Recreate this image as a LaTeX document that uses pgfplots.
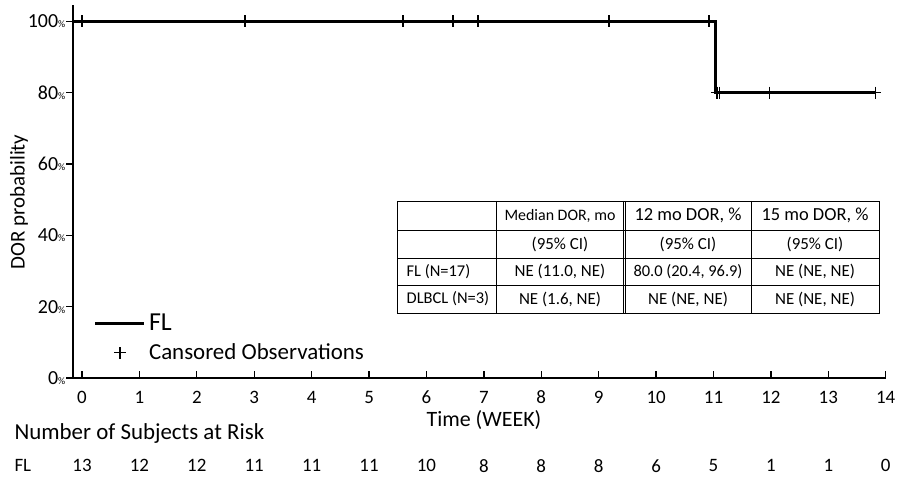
\documentclass[border=0pt]{standalone}
\usepackage{fontspec}
\setmainfont{Carlito}
\usepackage{pgfplots}
\pgfplotsset{compat=1.18}
\newcommand\fs[1]{\fontsize{#1}{#1}\selectfont}
\begin{document}
\begin{tikzpicture}[x=1bp,y=1bp]
\useasboundingbox (0,0) rectangle (898,477);
\begin{axis}[
  at={(73bp,99bp)}, anchor=south west,
  scale only axis, width=813bp, height=373bp,
  xmin=-0.157, xmax=14.005, ymin=0, ymax=104.6,
  axis x line=bottom, axis y line=left,
  axis line style={-, line width=1.6bp, black},
  xtick={0,1,...,14}, ytick={0,20,...,100},
  tick align=center, major tick length=7bp,
  tick style={line width=1.3bp, black},
  xtick style={yshift=3.5bp}, ytick style={xshift=-3.5bp},
  /pgf/number format/assume math mode=true,
  xticklabel style={font=\fs{19}, anchor=center, yshift=-16bp, inner sep=0pt},
  yticklabel style={font=\fs{20}, anchor=east, xshift=-4bp, inner sep=0pt},
  yticklabel={\pgfmathprintnumber{\tick}{\fs{10}\%}},
  clip=false,
  legend cell align=left,
  legend style={at={(axis cs:0.2,18.5)}, anchor=north west, draw=none, fill=none,
    font=\fs{23}, inner sep=0pt, row sep=7.5bp},
]
\addplot[black, line width=2.7bp, line join=miter,
  legend image code/.code={\path[draw=none, fill=none] (0bp,0bp) -- (52bp,0bp);
    \draw[black, line width=2.7bp] (0bp,0bp) -- (49bp,0bp);}]
  coordinates {(-0.157,100) (11.03,100) (11.03,80) (13.82,80)};
\addlegendentry{\fs{26}FL}
\addplot[only marks, black, mark=+, mark size=6bp, mark options={line width=1.4bp},
  legend image code/.code={\path[draw=none, fill=none] (0bp,0bp) -- (52bp,0bp);
    \draw[black, line width=1.2bp] (19bp,0bp) -- (31bp,0bp) (25bp,-6bp) -- (25bp,6bp);}]
  coordinates {(0,100) (2.84,100) (5.59,100) (6.46,100) (6.90,100) (9.18,100) (10.92,100)
               (11.06,80) (11.10,80) (11.98,80) (13.82,80)};
\addlegendentry{Cansored Observations}
\end{axis}
% y label
\node[rotate=90, font=\fs{21}] at (19,275) {DOR probability};
% x label
\node[font=\fs{22}, inner sep=0pt] at (484,57) {Time (WEEK)};
% risk table
\node[font=\fs{23}, anchor=west] at (11,43) {Number of Subjects at Risk};
\node[font=\fs{19}, anchor=west] at (11,11.3) {FL};
\foreach \v [count=\i from 0] in {13,12,12,11,11,11,10,8,8,8,6,5,1,1,0}
  \node[font=\fs{19}] at ({82+57.41*\i},11.3) {\v};
% summary table
\draw[line width=0.9bp] (397,276) rectangle (879,164);
\foreach \yy in {247,219,192} \draw[line width=0.9bp] (397,\yy) -- (879,\yy);
\foreach \xx in {496.7,623.3,625.7,751} \draw[line width=0.9bp] (\xx,276) -- (\xx,164);
\node[font=\fs{16}] at (560,261.5) {Median DOR, mo};
\node[font=\fs{18.5}] at (688,261.5) {12 mo DOR, \%};
\node[font=\fs{18.5}] at (815,261.5) {15 mo DOR, \%};
\node[font=\fs{17}] at (560,233) {(95\% CI)};
\node[font=\fs{17}] at (688,233) {(95\% CI)};
\node[font=\fs{17}] at (815,233) {(95\% CI)};
\node[font=\fs{16.5}, anchor=west, inner sep=0pt] at (406.5,205.5) {FL (N=17)};
\node[font=\fs{17}] at (560,205.5) {NE (11.0, NE)};
\node[font=\fs{16.5}] at (688,205.5) {80.0 (20.4, 96.9)};
\node[font=\fs{17}] at (815,205.5) {NE (NE, NE)};
\node[font=\fs{16.5}, anchor=west, inner sep=0pt] at (406.5,178) {DLBCL (N=3)};
\node[font=\fs{17}] at (560,178) {NE (1.6, NE)};
\node[font=\fs{17}] at (688,178) {NE (NE, NE)};
\node[font=\fs{17}] at (815,178) {NE (NE, NE)};
\end{tikzpicture}
\end{document}
